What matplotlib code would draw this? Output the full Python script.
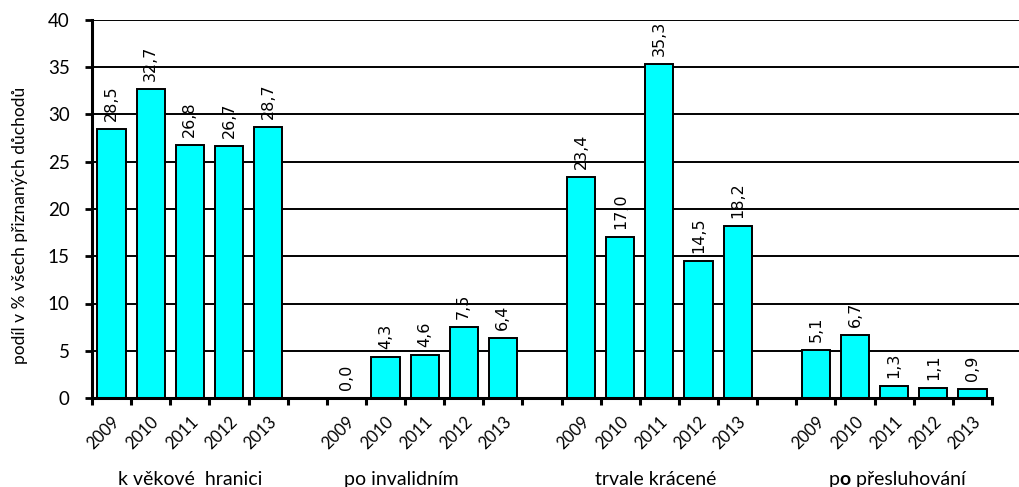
import matplotlib
matplotlib.use("Agg")
import matplotlib.pyplot as plt
from matplotlib.transforms import blended_transform_factory, offset_copy

# Shares of granted pensions by type, 2009-2013
years = ["2009", "2010", "2011", "2012", "2013"]
groups = ["k věkové  hranici", "po invalidním", "trvale krácené", "po přesluhování"]
vekove = [28.5, 32.7, 26.8, 26.7, 28.7]
invalidni = [0.0, 4.3, 4.6, 7.5, 6.4]
kracene = [23.4, 17.0, 35.3, 14.5, 18.2]
presluhovani = [5.1, 6.7, 1.3, 1.1, 0.9]
series = [vekove, invalidni, kracene, presluhovani]

# one empty slot separates the groups
values, labels = [], []
for gi, s in enumerate(series):
    values.extend(s)
    labels.extend(years)
    if gi < len(series) - 1:
        values.append(None)
        labels.append("")
n_slots = len(values)

LABEL_FONT = "Lato"
CAPTION_SIZE = 14

fig = plt.figure(figsize=(10.19, 4.87), dpi=100)
ax = fig.add_axes([92 / 1019, 89 / 487, 927 / 1019, 378 / 487])

slot_px = 900 / n_slots
ax.set_xlim(0, 927 / slot_px)
ax.set_ylim(0, 40)

xs = [i + 0.5 for i, v in enumerate(values) if v is not None]
vs = [v for v in values if v is not None]
ax.bar(xs, vs, width=0.72, color="#00FFFF", edgecolor="black", linewidth=1.4, zorder=3)

# value labels above each bar
for x, v in zip(xs, vs):
    t = offset_copy(ax.transData, fig=fig, x=0, y=8, units="dots")
    ax.text(x, v, f"{v:.1f}".replace(".", ","), rotation=90, ha="center", va="bottom",
            fontsize=11.5, family="DejaVu Sans", transform=t, zorder=4)

# horizontal gridlines across the whole plot width
for yv in range(5, 41, 5):
    ax.axhline(yv, color="black", linewidth=1.4, zorder=1)

for side in ("top", "right"):
    ax.spines[side].set_visible(False)
ax.spines["left"].set_linewidth(2.2)
ax.spines["bottom"].set_linewidth(2.2)
ax.spines["bottom"].set_bounds(0, n_slots)
ax.spines["bottom"].set_zorder(5)

ax.set_yticks(range(0, 41, 5))
ax.tick_params(axis="y", direction="out", length=5, width=2, pad=11, labelsize=13.5)
for lab in ax.get_yticklabels():
    lab.set_family(LABEL_FONT)

ax.set_xticks(range(0, n_slots + 1))
ax.set_xticklabels([])
ax.tick_params(axis="x", which="major", direction="out", length=5, width=2.2)
ax.set_xticks([i + 0.5 for i in range(n_slots)], minor=True)
ax.set_xticklabels(labels, minor=True, rotation=45, ha="right", rotation_mode="anchor",
                   family=LABEL_FONT, fontsize=12)
ax.tick_params(axis="x", which="minor", length=0, pad=11)

ax.set_ylabel("podíl v % všech přiznaných důchodů", family=LABEL_FONT, fontsize=12.5)
ax.yaxis.set_label_coords(-64 / 927, (398 - 225) / 378)

# group captions below the year labels
tr = blended_transform_factory(ax.transData, fig.transFigure)
cap_y = 2 / 487
cap_x = [2.5, 7.9, 14.4, 20.58]
for gi in range(3):
    ax.text(cap_x[gi], cap_y, groups[gi], ha="center", va="baseline", transform=tr,
            family=LABEL_FONT, fontsize=CAPTION_SIZE)

# last caption has a bold "o"
fig.canvas.draw()
renderer = fig.canvas.get_renderer()
parts = [("p", "normal"), ("o", "bold"), (" přesluhování", "normal")]
tmp = [fig.text(0, 0, p, family=LABEL_FONT, fontsize=CAPTION_SIZE, weight=w) for p, w in parts]
widths = [t.get_window_extent(renderer).width for t in tmp]
for t in tmp:
    t.remove()
total = sum(widths)
cx_disp = ax.transData.transform((cap_x[3], 0))[0]
x0 = cx_disp - total / 2
for (p, w), wd in zip(parts, widths):
    fig.text(x0 / fig.bbox.width, cap_y, p, family=LABEL_FONT, fontsize=CAPTION_SIZE, weight=w,
             ha="left", va="baseline")
    x0 += wd

fig.savefig("out.png", dpi=100)
